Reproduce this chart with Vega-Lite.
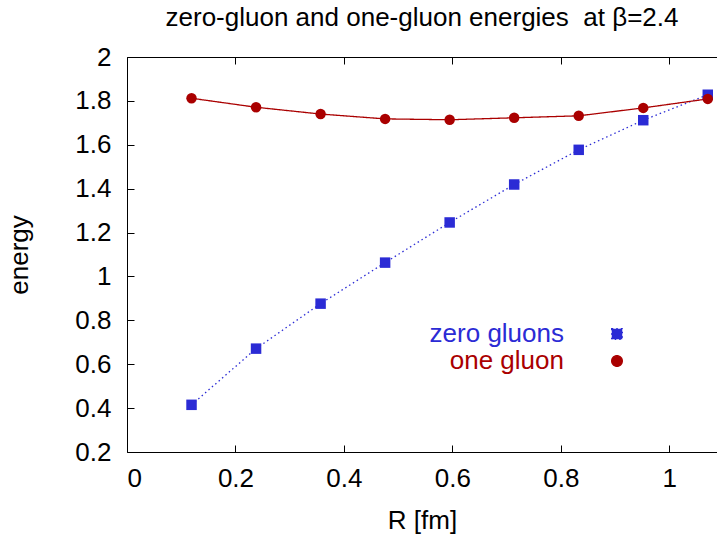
{
  "$schema": "https://vega.github.io/schema/vega-lite/v6.json",
  "autosize": {"type": "none"},
  "width": 590,
  "height": 395,
  "padding": {"left": 127, "top": 57, "right": 0, "bottom": 86},
  "background": "white",
  "config": {
    "view": {"stroke": null},
    "font": "Liberation Sans",
    "axis": {
      "grid": false,
      "domainColor": "black",
      "domainWidth": 1,
      "tickColor": "black",
      "tickWidth": 1,
      "tickSize": -7,
      "labelFont": "Liberation Sans",
      "labelFontSize": 26,
      "labelColor": "black",
      "titleFont": "Liberation Sans",
      "titleFontSize": 26,
      "titleFontWeight": "normal",
      "titleColor": "black"
    }
  },
  "title": {
    "text": "zero-gluon and one-gluon energies \u00a0at β=2.4",
    "font": "Liberation Sans",
    "fontSize": 26,
    "fontWeight": "normal",
    "color": "black",
    "offset": 13
  },
  "data": {
    "values": [
      {"R": 0.119, "energy": 0.415, "series": "zero gluons"},
      {"R": 0.238, "energy": 0.671, "series": "zero gluons"},
      {"R": 0.357, "energy": 0.876, "series": "zero gluons"},
      {"R": 0.476, "energy": 1.063, "series": "zero gluons"},
      {"R": 0.595, "energy": 1.246, "series": "zero gluons"},
      {"R": 0.714, "energy": 1.419, "series": "zero gluons"},
      {"R": 0.833, "energy": 1.577, "series": "zero gluons"},
      {"R": 0.952, "energy": 1.712, "series": "zero gluons"},
      {"R": 1.071, "energy": 1.828, "series": "zero gluons"},
      {"R": 0.119, "energy": 1.812, "series": "one gluon"},
      {"R": 0.238, "energy": 1.771, "series": "one gluon"},
      {"R": 0.357, "energy": 1.740, "series": "one gluon"},
      {"R": 0.476, "energy": 1.718, "series": "one gluon"},
      {"R": 0.595, "energy": 1.714, "series": "one gluon"},
      {"R": 0.714, "energy": 1.723, "series": "one gluon"},
      {"R": 0.833, "energy": 1.732, "series": "one gluon"},
      {"R": 0.952, "energy": 1.768, "series": "one gluon"},
      {"R": 1.071, "energy": 1.809, "series": "one gluon"}
    ]
  },
  "layer": [
    {
      "mark": {"type": "line", "strokeWidth": 1.3},
      "encoding": {
        "x": {
          "field": "R",
          "type": "quantitative",
          "scale": {"domain": [0, 1.088], "nice": false, "zero": false},
          "axis": {
            "orient": "bottom",
            "values": [0, 0.2, 0.4, 0.6, 0.8, 1],
            "format": "~g",
            "title": "R [fm]",
            "labelPadding": 20,
            "titlePadding": 16
          }
        },
        "y": {
          "field": "energy",
          "type": "quantitative",
          "scale": {"domain": [0.2, 2], "nice": false, "zero": false},
          "axis": {
            "orient": "left",
            "values": [0.2, 0.4, 0.6, 0.8, 1, 1.2, 1.4, 1.6, 1.8, 2],
            "format": "~g",
            "title": "energy",
            "labelPadding": 23,
            "titlePadding": 42
          }
        },
        "color": {
          "field": "series",
          "type": "nominal",
          "scale": {"domain": ["zero gluons", "one gluon"], "range": ["#2b2bd5", "#aa0000"]}
        },
        "strokeDash": {
          "field": "series",
          "type": "nominal",
          "scale": {"domain": ["zero gluons", "one gluon"], "range": [[1.5, 3], [1, 0]]},
          "legend": null
        }
      }
    },
    {
      "mark": {"type": "point", "filled": true, "size": 110, "opacity": 1},
      "encoding": {
        "x": {
          "field": "R",
          "type": "quantitative",
          "axis": {
            "orient": "top",
            "values": [0, 0.2, 0.4, 0.6, 0.8, 1],
            "labels": false,
            "title": null
          }
        },
        "y": {"field": "energy", "type": "quantitative"},
        "shape": {
          "field": "series",
          "type": "nominal",
          "scale": {"domain": ["zero gluons", "one gluon"], "range": ["square", "circle"]},
          "legend": null
        },
        "color": {
          "field": "series",
          "type": "nominal",
          "legend": {
            "orient": "none",
            "legendX": 477,
            "legendY": 264,
            "title": null,
            "padding": 0,
            "rowPadding": 1,
            "symbolSize": 110,
            "labelFont": "Liberation Sans",
            "labelFontSize": 26,
            "labelAlign": "right",
            "labelOffset": -66,
            "labelLimit": 400,
            "labelColor": {"expr": "datum.value === 'zero gluons' ? '#2b2bd5' : '#aa0000'"}
          }
        }
      }
    }
  ]
}
